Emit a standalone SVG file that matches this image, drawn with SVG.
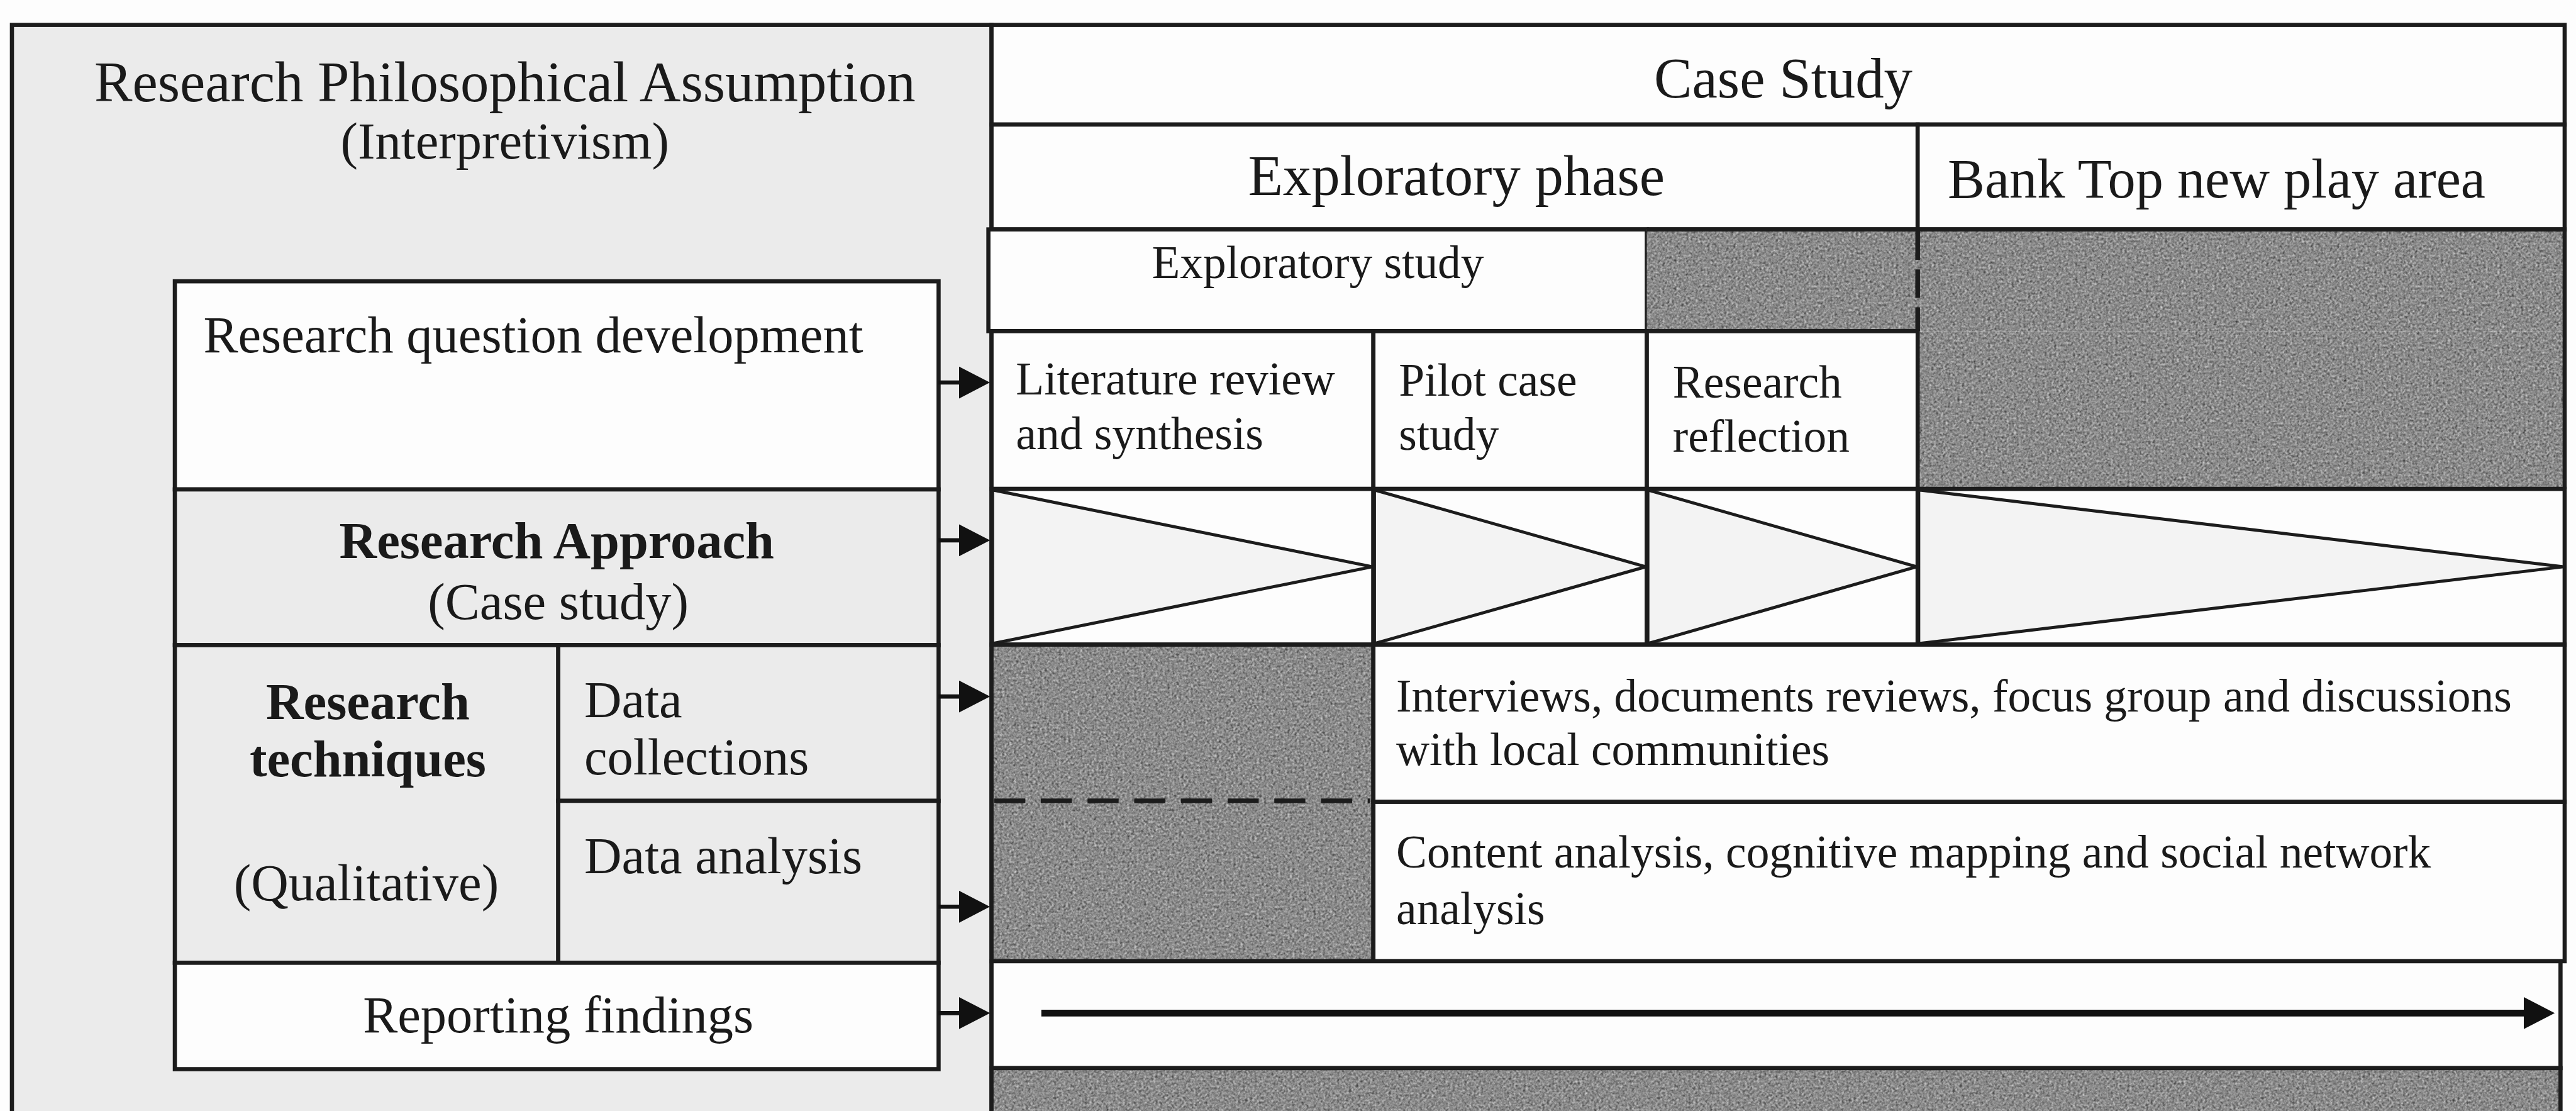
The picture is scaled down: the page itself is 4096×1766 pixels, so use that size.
<svg xmlns="http://www.w3.org/2000/svg" width="4096" height="1766" viewBox="0 0 4096 1766">
  <defs>
    <style>
      .box{stroke:#1c1c1c;stroke-width:8}
      .edge{stroke:#1c1c1c;stroke-width:8;fill:none}
      .ln{stroke:#1c1c1c;stroke-width:8;fill:none}
      .w{fill:#fdfdfd}
      .lg{fill:#ebebeb}
      .dg{fill:#8b8b8b;filter:url(#grain)}
      .tri{fill:#f3f3f3;stroke:#1c1c1c;stroke-width:6;stroke-linejoin:miter}
      .dash{stroke:#1c1c1c;stroke-width:9;stroke-dasharray:60 30;fill:none}
      .conn{stroke:#111;stroke-width:8;fill:none}
      .conn-long{stroke:#111;stroke-width:13;fill:none}
      text{font-family:"Liberation Serif","Times New Roman",serif;fill:#1a1a1a}
      .t110{font-size:110px}
      .t107{font-size:107px}
      .t100{font-size:100px}
      .t89{font-size:89px}
      .b{font-weight:bold}
      .mid{text-anchor:middle}
    </style>
    <!-- speckled mid-grey for the shaded (not applicable) cells -->
    <filter id="grain" filterUnits="objectBoundingBox" x="0" y="0" width="1" height="1" color-interpolation-filters="sRGB">
      <feTurbulence type="fractalNoise" baseFrequency="0.22" numOctaves="2" seed="7" result="noise"/>
      <feColorMatrix in="noise" type="matrix" values="0.36 0.36 0.36 0 0.0  0.36 0.36 0.36 0 0.0  0.36 0.36 0.36 0 0.0  0 0 0 0 1" result="grey"/>
      <feComposite in="grey" in2="SourceGraphic" operator="in"/>
    </filter>
    <marker id="head" viewBox="0 0 60 62" refX="2" refY="31" markerWidth="60" markerHeight="62" markerUnits="userSpaceOnUse" orient="auto">
      <path d="M0,0 L60,31 L0,62 z" fill="#111"/>
    </marker>
  </defs>

  <rect x="0" y="0" width="4096" height="1766" fill="#fdfdfd"/>

  <!-- drawing coordinates are laid out on a 4963 x 2140 grid -->
  <g transform="scale(0.825)">

    <!-- philosophical assumption panel -->
    <g id="philosophy">
      <rect class="box lg" x="23" y="48" width="1888" height="2200"/>
      <text class="t110 mid" x="973" y="195">Research Philosophical Assumption</text>
      <text class="t100 mid" x="973" y="306">(Interpretivism)</text>
    </g>

    <g id="research-question">
      <rect class="box w" x="337" y="542" width="1472" height="401"/>
      <text class="t100" x="392" y="679">Research question development</text>
    </g>

    <g id="research-approach">
      <rect class="box lg" x="337" y="943" width="1472" height="300"/>
      <text class="t100 b mid" x="1073" y="1075">Research Approach</text>
      <text class="t100 mid" x="1076" y="1193">(Case study)</text>
    </g>

    <g id="research-techniques">
      <rect class="box lg" x="337" y="1243" width="739" height="612"/>
      <text class="t100 b mid" x="709" y="1386">Research</text>
      <text class="t100 b mid" x="709" y="1496">techniques</text>
      <text class="t100 mid" x="706" y="1735">(Qualitative)</text>
    </g>

    <g id="data-collections">
      <rect class="box lg" x="1076" y="1243" width="733" height="300"/>
      <text class="t100" x="1126" y="1382">Data</text>
      <text class="t100" x="1126" y="1492">collections</text>
    </g>

    <g id="data-analysis">
      <rect class="box lg" x="1076" y="1543" width="733" height="312"/>
      <text class="t100" x="1126" y="1682">Data analysis</text>
    </g>

    <g id="reporting-findings">
      <rect class="box w" x="337" y="1855" width="1472" height="205"/>
      <text class="t100 mid" x="1076" y="1989">Reporting findings</text>
    </g>

    <!-- case study column -->
    <g id="case-study">
      <rect class="box w" x="1911" y="48" width="3032" height="192"/>
      <text class="t110 mid" x="3437" y="188">Case Study</text>
    </g>

    <g id="exploratory-phase">
      <rect class="box w" x="1911" y="240" width="1785" height="202"/>
      <text class="t110 mid" x="2807" y="376">Exploratory phase</text>
    </g>

    <g id="bank-top">
      <rect class="box w" x="3696" y="240" width="1247" height="202"/>
      <text class="t107" x="3754" y="380">Bank Top new play area</text>
    </g>

    <g id="exploratory-study">
      <rect class="box w" x="1905" y="442" width="1269" height="196"/>
      <text class="t89 mid" x="2540" y="536">Exploratory study</text>
    </g>

    <!-- unused cells (shaded) -->
    <g id="shaded-top">
      <rect class="dg" x="3174" y="442" width="1769" height="196"/>
      <rect class="dg" x="3696" y="638" width="1247" height="304"/>
      <path class="ln" d="M3174,442 H4943 V942"/>
      <path class="dash" d="M3696,446 V638" style="stroke-dasharray:55 18"/>
    </g>

    <g id="literature-review">
      <rect class="box w" x="1911" y="638" width="736" height="304"/>
      <text class="t89" x="1958" y="760">Literature review</text>
      <text class="t89" x="1958" y="865">and synthesis</text>
    </g>

    <g id="pilot-case-study">
      <rect class="box w" x="2647" y="638" width="527" height="304"/>
      <text class="t89" x="2696" y="762">Pilot case</text>
      <text class="t89" x="2696" y="867">study</text>
    </g>

    <g id="research-reflection">
      <rect class="box w" x="3174" y="638" width="522" height="304"/>
      <text class="t89" x="3224" y="766">Research</text>
      <text class="t89" x="3224" y="870">reflection</text>
    </g>

    <!-- approach row: stage wedges -->
    <g id="approach-stages">
      <rect class="box w" x="1911" y="942" width="736" height="300"/>
      <rect class="box w" x="2647" y="942" width="527" height="300"/>
      <rect class="box w" x="3174" y="942" width="522" height="300"/>
      <rect class="box w" x="3696" y="942" width="1247" height="300"/>
      <polygon class="tri" points="1913,944 2645,1092 1913,1240"/>
      <polygon class="tri" points="2649,944 3172,1092 2649,1240"/>
      <polygon class="tri" points="3176,944 3694,1092 3176,1240"/>
      <polygon class="tri" points="3698,944 4941,1092 3698,1240"/>
    </g>

    <g id="shaded-exploratory-data">
      <rect class="dg" x="1911" y="1242" width="736" height="610"/>
      <rect class="edge" x="1911" y="1242" width="736" height="610"/>
      <path class="dash" d="M1916,1543 H2640"/>
    </g>

    <g id="data-collection-methods">
      <rect class="box w" x="2647" y="1242" width="2296" height="303"/>
      <text class="t89" x="2691" y="1371">Interviews, documents reviews, focus group and discussions</text>
      <text class="t89" x="2691" y="1474">with local communities</text>
    </g>

    <g id="data-analysis-methods">
      <rect class="box w" x="2647" y="1545" width="2296" height="307"/>
      <text class="t89" x="2691" y="1671">Content analysis, cognitive mapping and social network</text>
      <text class="t89" x="2691" y="1781">analysis</text>
    </g>

    <g id="reporting-timeline">
      <rect class="box w" x="1911" y="1852" width="3024" height="206"/>
      <rect class="dg" x="1911" y="2058" width="3024" height="200"/>
      <rect class="edge" x="1911" y="2058" width="3024" height="200"/>
    </g>

    <!-- connectors -->
    <g id="connectors">
      <path class="conn" d="M1809,737 H1850" marker-end="url(#head)"/>
      <path class="conn" d="M1809,1041 H1850" marker-end="url(#head)"/>
      <path class="conn" d="M1809,1342 H1850" marker-end="url(#head)"/>
      <path class="conn" d="M1809,1747 H1850" marker-end="url(#head)"/>
      <path class="conn" d="M1809,1952 H1850" marker-end="url(#head)"/>
      <path class="conn-long" d="M2007,1952 H4866" marker-end="url(#head)"/>
    </g>
  </g>
</svg>
